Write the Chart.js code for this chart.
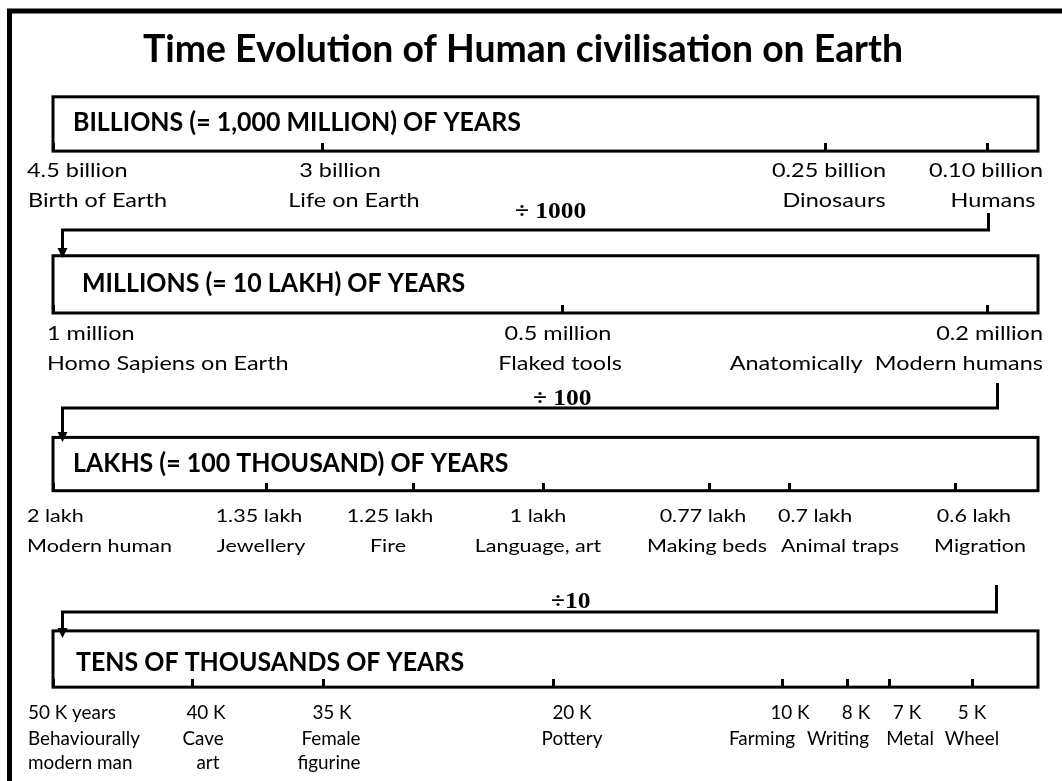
<!DOCTYPE html>
<html>
<head>
<meta charset="utf-8">
<script src="https://cdn.jsdelivr.net/npm/chart.js@4.4.1/dist/chart.umd.min.js"></script>
<style>
  html, body { margin: 0; padding: 0; background: #fff; }
  #wrap { width: 1062px; height: 781px; position: relative; }
</style>
</head>
<body>
<div id="wrap"><canvas id="timeline"></canvas></div>
<script>
// --- data (positions are the schematic places along each timeline bar, 0 = left end, 100 = right end)
const chartTitle = 'Time Evolution of Human civilisation on Earth';
const rowTitles = [
  'BILLIONS (= 1,000 MILLION) OF YEARS',
  'MILLIONS (= 10 LAKH) OF YEARS',
  'LAKHS (= 100 THOUSAND) OF YEARS',
  'TENS OF THOUSANDS OF YEARS'
];
const factors = ['\u00f7 1000', '\u00f7 100', '\u00f710'];

const billionLabels = ['4.5 billion', '3 billion', '0.25 billion', '0.10 billion'];
const billionEvents = [['Birth of Earth'], ['Life on Earth'], ['Dinosaurs'], ['Humans']];
const billionPos = [0, 27.4, 78.4, 94.9];

const millionLabels = ['1 million', '0.5 million', '0.2 million'];
const millionEvents = [['Homo Sapiens on Earth'], ['Flaked tools'], ['Anatomically  Modern humans']];
const millionPos = [0, 51.7, 94.9];

const lakhLabels = ['2 lakh', '1.35 lakh', '1.25 lakh', '1 lakh', '0.77 lakh', '0.7 lakh', '0.6 lakh'];
const lakhEvents = [['Modern human'], ['Jewellery'], ['Fire'], ['Language, art'], ['Making beds'], ['Animal traps'], ['Migration']];
const lakhPos = [0, 21.7, 36.6, 49.8, 66.6, 74.8, 91.6];

const kLabels = ['50 K years', '40 K', '35 K', '20 K', '10 K', '8 K', '7 K', '5 K'];
const kEvents = [['Behaviourally', 'modern man'], ['Cave', 'art'], ['Female', 'figurine'], ['Pottery'], ['Farming'], ['Writing'], ['Metal'], ['Wheel']];
const kPos = [0, 14.2, 27.5, 50.8, 74.1, 80.7, 84.9, 93.3];

const rows = [
  { labels: billionLabels, events: billionEvents, pos: billionPos },
  { labels: millionLabels, events: millionEvents, pos: millionPos },
  { labels: lakhLabels, events: lakhEvents, pos: lakhPos },
  { labels: kLabels, events: kEvents, pos: kPos }
];

// --- layout (pixels on the 1062x781 page)
const LAYOUT = {
  boxTop:    [93, 254, 438, 634],
  boxBottom: [148, 312, 492, 691],
  headX:     [73, 82, 73, 76],
  headBase:  [131, 292, 472, 671],
  lineBase:  [[177, 207], [340, 370], [522, 552], [719, 745, 769]],
  labelFont: ['lab12', 'lab12', 'lab3', 'lab4'],
  // [align, x of line 1, x of line 2, x of line 3]; missing ones reuse the last
  anchors: [
    [['left', 27, 28], ['center', 340, 354], ['center', 829, 834], ['center', 986, 993]],
    [['left', 47], ['center', 558, 560], ['right', 1043]],
    [['left', 27], ['center', 259, 261], ['center', 390, 388], ['center', 538], ['center', 703, 707],
     ['left', 778, 781], ['center', 974, 980]],
    [['left', 28], ['center', 206, 203, 208], ['center', 332, 331, 329], ['center', 572], ['center', 790, 762],
     ['center', 856, 838], ['center', 907, 910], ['center', 972]]
  ],
  // connectors: right drop x (scale units), y from, y of horizontal run, factor text
  connX: [94.9, 95.8, 95.7],
  connLeftX: 0.9,
  connFrom: [213, 383, 585],
  connY: [230, 408, 612],
  factorX: [515, 533, 551],
  factorBase: [218, 405, 608]
};

// font classes: size from cap height, horizontal squeeze fitted to a reference width
const FONTS = {
  title: { font: 'bold 38px Lato', ref: chartTitle, w: 760 },
  head:  { font: 'bold 27px Lato', ref: rowTitles[0], w: 448 },
  lab12: { font: '20px Lato', ref: 'Birth of Earth', w: 139 },
  lab3:  { font: '18px Lato', ref: 'Modern human', w: 145 },
  lab4:  { font: '18.5px Lato', ref: 'Behaviourally', w: 112 },
  div:   { font: 'bold 24px "Liberation Serif"', ref: '1000', w: 51 }
};

function fitFonts(ctx) {
  Object.values(FONTS).forEach(f => {
    ctx.font = f.font;
    f.sx = f.w / ctx.measureText(f.ref).width;
  });
}

function drawText(ctx, s, x, y, cls, align) {
  const f = FONTS[cls];
  ctx.save();
  ctx.font = f.font;
  const w = ctx.measureText(s).width * f.sx;
  const x0 = align === 'center' ? x - w / 2 : align === 'right' ? x - w : x;
  ctx.translate(x0, y);
  ctx.scale(f.sx, 1);
  ctx.textAlign = 'left';
  ctx.textBaseline = 'alphabetic';
  ctx.fillStyle = '#000';
  ctx.fillText(s, 0, 0);
  ctx.restore();
}

// tick mark image: upper half solid, so the mark rises from the bar's bottom edge
const tickImg = document.createElement('canvas');
tickImg.width = 3; tickImg.height = 16;
(function () {
  const t = tickImg.getContext('2d');
  t.fillStyle = '#000';
  t.fillRect(0, 0, 3, 8);
})();

const diagramPlugin = {
  id: 'diagram',
  beforeDatasetsDraw(chart) {
    const ctx = chart.ctx;
    const xs = chart.scales.x, ys = chart.scales.y;
    fitFonts(ctx);
    ctx.save();
    ctx.strokeStyle = '#000';
    ctx.lineCap = 'butt';
    ctx.lineJoin = 'miter';

    // outer frame
    ctx.lineWidth = 5;
    ctx.beginPath();
    ctx.moveTo(9.5, 781);
    ctx.lineTo(9.5, 11);
    ctx.lineTo(1062, 11);
    ctx.stroke();

    drawText(ctx, chartTitle, 523, 62, 'title', 'center');

    const xl = xs.getPixelForValue(0), xr = xs.getPixelForValue(100);
    rows.forEach((row, r) => {
      const yt = ys.getPixelForValue(LAYOUT.boxTop[r]);
      const yb = ys.getPixelForValue(LAYOUT.boxBottom[r]);
      ctx.lineWidth = 3;
      ctx.strokeRect(xl, yt, xr - xl, yb - yt);
      drawText(ctx, rowTitles[r], LAYOUT.headX[r], LAYOUT.headBase[r], 'head', 'left');

      row.labels.forEach((lab, i) => {
        const a = LAYOUT.anchors[r][i];
        const lines = [lab].concat(row.events[i]);
        lines.forEach((ln, k) => {
          const ax = a[Math.min(k + 1, a.length - 1)];
          drawText(ctx, ln, ax, LAYOUT.lineBase[r][k], LAYOUT.labelFont[r], a[0]);
        });
      });
    });

    // connectors between the bars
    LAYOUT.connX.forEach((cx, c) => {
      const xR = Math.round(xs.getPixelForValue(cx)) + 0.5;
      const xL = Math.round(xs.getPixelForValue(LAYOUT.connLeftX)) + 0.5;
      const yh = LAYOUT.connY[c];
      const yNext = LAYOUT.boxTop[c + 1];
      ctx.lineWidth = 3;
      ctx.beginPath();
      ctx.moveTo(xR, LAYOUT.connFrom[c]);
      ctx.lineTo(xR, yh);
      ctx.lineTo(xL, yh);
      ctx.lineTo(xL, yNext - 5);
      ctx.stroke();
      ctx.fillStyle = '#000';
      ctx.beginPath();
      ctx.moveTo(xL - 5, yNext - 6);
      ctx.lineTo(xL + 5, yNext - 6);
      ctx.lineTo(xL, yNext + 4);
      ctx.closePath();
      ctx.fill();
      drawText(ctx, factors[c], LAYOUT.factorX[c], LAYOUT.factorBase[c], 'div', 'left');
    });
    ctx.restore();
  }
};

const datasets = rows.map((row, r) => ({
  label: rowTitles[r],
  data: row.pos.map(p => ({ x: p, y: LAYOUT.boxBottom[r] })),
  pointStyle: tickImg,
  pointRadius: 4,
  showLine: false,
  clip: false
}));

new Chart(document.getElementById('timeline'), {
  type: 'scatter',
  data: { datasets },
  options: {
    responsive: true,
    maintainAspectRatio: false,
    animation: false,
    events: [],
    layout: { padding: { left: 53, right: 24, top: 0, bottom: 0 } },
    plugins: { legend: { display: false }, tooltip: { enabled: false }, title: { display: false } },
    scales: {
      x: { type: 'linear', min: 0, max: 100, display: false },
      y: { type: 'linear', min: 0, max: 781, reverse: true, display: false }
    }
  },
  plugins: [diagramPlugin]
});
</script>
</body>
</html>
